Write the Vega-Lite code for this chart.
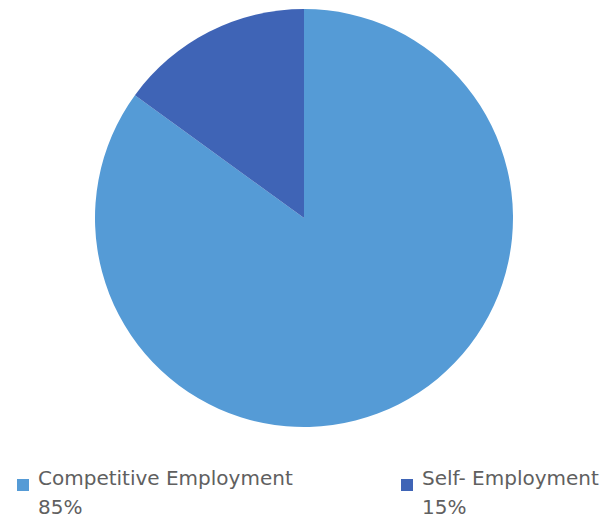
{
  "$schema": "https://vega.github.io/schema/vega-lite/v6.json",
  "width": 608,
  "height": 436,
  "padding": 0,
  "autosize": {"type": "pad"},
  "background": "white",
  "config": {"view": {"stroke": null}, "style": {"guide-label": {"lineHeight": 29}}},
  "data": {
    "values": [
      {"category": "Competitive Employment", "share": 85, "order": 1},
      {"category": "Self- Employment", "share": 15, "order": 2}
    ]
  },
  "mark": {"type": "arc", "outerRadius": 209, "stroke": null},
  "encoding": {
    "theta": {"field": "share", "type": "quantitative", "stack": true},
    "order": {"field": "order", "type": "quantitative"},
    "color": {
      "field": "category",
      "type": "nominal",
      "sort": ["Competitive Employment", "Self- Employment"],
      "scale": {"domain": ["Competitive Employment", "Self- Employment"], "range": ["#559BD6", "#3F64B6"]},
      "legend": {
        "title": null,
        "orient": "none",
        "legendX": 13,
        "legendY": 475,
        "direction": "horizontal",
        "columns": 2,
        "columnPadding": 104,
        "symbolType": "square",
        "symbolSize": 144,
        "symbolStrokeWidth": 0,
        "labelFont": "DejaVu Sans",
        "labelFontSize": 20,
        "labelColor": "#606060",
        "labelOffset": 5,
        "labelLimit": 400,
        "labelBaseline": "alphabetic",
        "labelExpr": "datum.label == 'Competitive Employment' ? ['Competitive Employment', '85%'] : ['Self- Employment', '15%']",
        "encode": {"labels": {"update": {"lineHeight": {"value": 29}}}}
      }
    }
  }
}
